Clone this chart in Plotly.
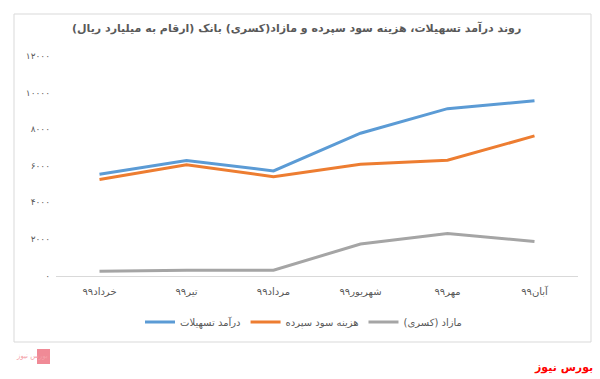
import plotly.graph_objects as go

categories = ["خرداد۹۹", "تیر۹۹", "مرداد۹۹", "شهریور۹۹", "مهر۹۹", "آبان۹۹"]
income = [5530, 6280, 5720, 7780, 9120, 9550]
expense = [5250, 6050, 5400, 6080, 6300, 7630]
surplus = [230, 290, 290, 1720, 2290, 1860]
series_names = ["درآمد تسهیلات", "هزینه سود سپرده", "مازاد (کسری)"]
tick_vals = [0, 2000, 4000, 6000, 8000, 10000, 12000]
tick_text = ["۰", "۲۰۰۰", "۴۰۰۰", "۶۰۰۰", "۸۰۰۰", "۱۰۰۰۰", "۱۲۰۰۰"]
title_text = "روند درآمد تسهیلات، هزینه سود سپرده و مازاد(کسری) بانک (ارقام به میلیارد ریال)"

W, H = 600, 379
colors = ["#5B9BD5", "#ED7D31", "#A5A5A5"]

fig = go.Figure()
for name, vals, c in zip(series_names, [income, expense, surplus], colors):
    fig.add_trace(go.Scatter(x=categories, y=vals, name=name, mode="lines",
                             line=dict(color=c, width=3)))

fig.update_layout(
    width=W, height=H,
    margin=dict(l=0, r=0, t=0, b=0),
    paper_bgcolor="white", plot_bgcolor="white",
    font=dict(family="DejaVu Sans, Noto Sans", color="#595959"),
    showlegend=True,
    hovermode=False,
    legend=dict(orientation="h", x=140 / W, xanchor="left", y=1 - 322 / H, yanchor="middle",
                font=dict(size=10, color="#595959"), itemwidth=30, tracegroupgap=0,
                bgcolor="rgba(0,0,0,0)"),
    xaxis=dict(domain=[56 / W, 578 / W], showgrid=False, showline=True, linecolor="#D9D9D9",
               linewidth=1, ticks="", tickfont=dict(size=10, color="#595959"),
               range=[-0.5, 5.5], fixedrange=True, automargin=False, ticklabelstandoff=6),
    yaxis=dict(domain=[1 - 275.5 / H, 1 - 56 / H], range=[0, 12000], showgrid=False,
               showline=False, zeroline=False, tickvals=tick_vals, ticktext=tick_text,
               tickfont=dict(size=9, color="#595959"), ticks="", automargin=False,
               ticklabelstandoff=5, fixedrange=True),
    annotations=[
        dict(text="<b>" + title_text + "</b>", x=296 / W, y=1 - 28 / H, xref="paper", yref="paper",
             showarrow=False, font=dict(size=11, color="#595959"), xanchor="center", yanchor="middle"),
        dict(text="<b>بورس نیوز</b>", x=595 / W, y=1 - 367 / H, xref="paper", yref="paper",
             showarrow=False, font=dict(size=11, color="#FF0000"), xanchor="right", yanchor="middle"),
        dict(text="بورس نیوز", x=14 / W, y=1 - 356 / H, xref="paper", yref="paper",
             showarrow=False, font=dict(size=7, color="#F4A0A8"), xanchor="left", yanchor="middle"),
    ],
    shapes=[
        dict(type="rect", xref="paper", yref="paper", x0=14 / W, x1=591 / W, y0=1 - 342 / H, y1=1 - 14 / H,
             line=dict(color="#D9D9D9", width=1)),
        dict(type="rect", xref="paper", yref="paper", x0=37 / W, x1=50 / W, y0=1 - 364 / H, y1=1 - 349 / H,
             line=dict(width=0), fillcolor="#F08A96"),
    ],
)

fig.write_html("out.html", config={"displayModeBar": False},
               post_script="document.body.style.margin='0';document.body.style.overflow='hidden';")
